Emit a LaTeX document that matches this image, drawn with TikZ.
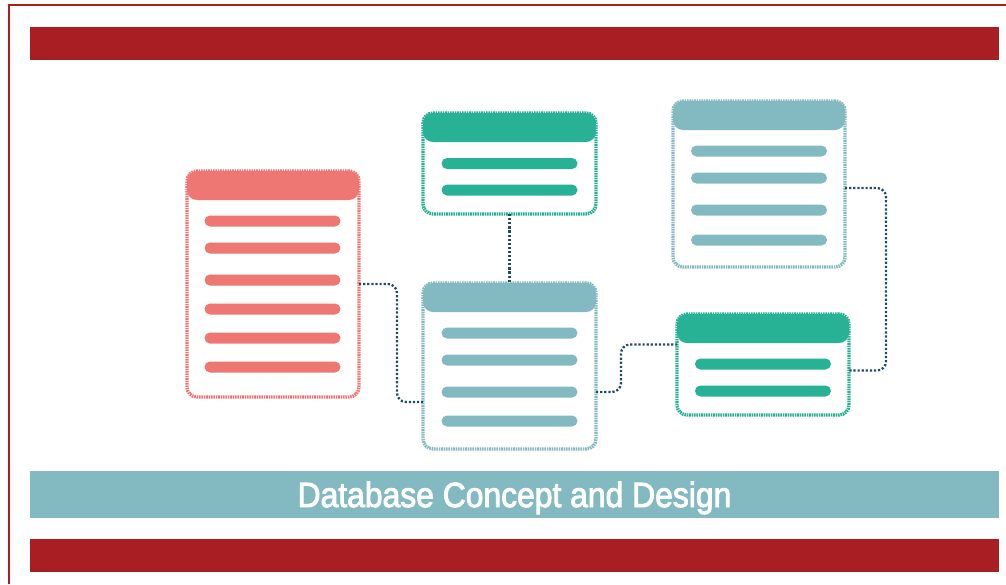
\documentclass[tikz,border=0pt]{standalone}
\usepackage{xcolor}
\usepackage{tikz}
\usepackage{fontspec}
\setmainfont{Liberation Sans}
\newfontfamily\bannerfont[FakeStretch=0.91, FakeBold=2.5]{Liberation Sans}
\definecolor{darkred}{HTML}{A81E22}
\definecolor{teal}{HTML}{83BAC1}
\definecolor{salmon}{HTML}{EE7773}
\definecolor{green}{HTML}{27B195}
\definecolor{navy}{HTML}{1E4D6B}

\begin{document}
\begin{tikzpicture}[x=1pt, y=-1pt,
    band/.style={fill=#1, minimum width=969pt, inner sep=0pt, outer sep=0pt},
    table/.style={draw=#1, fill=white, line width=3.4pt, dash pattern=on 1.6pt off 0.8pt,
        rounded corners=10pt, inner sep=0pt, outer sep=0pt,
        path picture={\fill[#1] ([yshift=2pt]path picture bounding box.north west)
            rectangle ([yshift=-29pt]path picture bounding box.north east);}},
    bar/.style={fill=#1, rounded corners=5.5pt, minimum width=136pt, minimum height=11pt, inner sep=0pt},
    link/.style={draw=navy, line width=2.3pt, dash pattern=on 2.2pt off 1.9pt, rounded corners=9pt}]
            \useasboundingbox (0,0) rectangle (1006,584);
            % Frame and bands
            \draw[darkred, line width=2.5pt] (1006,5) -- (9,5) -- (9,584);
            \node[band=darkred, minimum height=33pt] (top-band) at (514.5,43.5) {};
            \node[band=darkred, minimum height=33pt] (bottom-band) at (514.5,555.5) {};
            \node[band=teal, minimum height=47pt, text=white, text height=25pt, text depth=0pt,
                font=\bannerfont\fontsize{35}{40}\selectfont] (title) at (514.5,494.5) {Database Concept and Design};
            % Define nodes for tables
            \node[table=salmon, minimum width=172pt, minimum height=226pt] (table-red) at (273,284) {};
            \node[table=green, minimum width=173pt, minimum height=101pt] (table-green-top) at (509.5,163.5) {};
            \node[table=teal, minimum width=173pt, minimum height=166pt] (table-mid) at (509.5,366) {};
            \node[table=teal, minimum width=172pt, minimum height=166pt] (table-teal-right) at (759,184) {};
            \node[table=green, minimum width=172pt, minimum height=101pt] (table-green-right) at (763,364.5) {};
            % Define nodes for rows
            \node[bar=salmon] (red-row-1) at (272.5,221) {};
            \node[bar=salmon] (red-row-2) at (272.5,248) {};
            \node[bar=salmon] (red-row-3) at (272.5,280) {};
            \node[bar=salmon] (red-row-4) at (272.5,309) {};
            \node[bar=salmon] (red-row-5) at (272.5,338) {};
            \node[bar=salmon] (red-row-6) at (272.5,367) {};
            \node[bar=green] (green-top-row-1) at (509.5,163.5) {};
            \node[bar=green] (green-top-row-2) at (509.5,190) {};
            \node[bar=teal] (mid-row-1) at (509.5,333) {};
            \node[bar=teal] (mid-row-2) at (509.5,360) {};
            \node[bar=teal] (mid-row-3) at (509.5,392) {};
            \node[bar=teal] (mid-row-4) at (509.5,421) {};
            \node[bar=teal] (teal-right-row-1) at (759,151) {};
            \node[bar=teal] (teal-right-row-2) at (759,178) {};
            \node[bar=teal] (teal-right-row-3) at (759,210) {};
            \node[bar=teal] (teal-right-row-4) at (759,240) {};
            \node[bar=green] (green-right-row-1) at (763,364) {};
            \node[bar=green] (green-right-row-2) at (763,391) {};
            % Link ends
            \coordinate (mid-in) at ([yshift=-36pt]table-mid.west);
            \coordinate (mid-out) at ([yshift=-26pt]table-mid.east);
            \coordinate (green-in) at ([yshift=20pt]table-green-right.west);
            \coordinate (teal-out) at ([yshift=-4pt]table-teal-right.east);
            \coordinate (green-out) at ([yshift=-6pt]table-green-right.east);
            % Links
            \draw[link] (table-red.east) -- ++(38,0) |- (mid-in);
            \draw[link] (table-green-top.south) -- (table-mid.north);
            \draw[link] (mid-out) -- ++(25,0) |- (green-in);
            \draw[link] (teal-out) -- ++(41,0) |- (green-out);
        \end{tikzpicture}
\end{document}
